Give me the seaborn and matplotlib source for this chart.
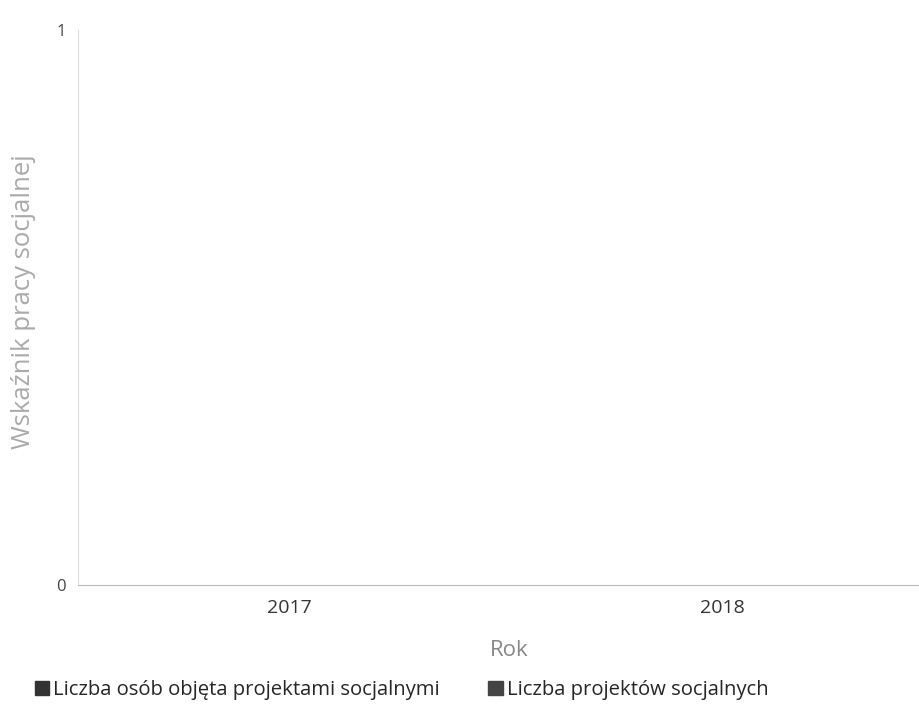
import matplotlib
matplotlib.use("Agg")
import pandas as pd
import matplotlib.pyplot as plt
import seaborn as sns

# data (both series are zero in the reference)
years = ["2017", "2018"]
series_names = ["Liczba osób objęta projektami socjalnymi", "Liczba projektów socjalnych"]
osoby = [0, 0]
projekty = [0, 0]
colors = ["#333333", "#444444"]

df = pd.DataFrame({
    "Rok": years * 2,
    "Seria": [series_names[0]] * len(years) + [series_names[1]] * len(years),
    "Wartosc": osoby + projekty,
})

sns.set_style("white")
plt.rcParams["font.family"] = ["Open Sans", "DejaVu Sans"]

fig = plt.figure(figsize=(9.19, 7.08), dpi=100)
ax = fig.add_axes([78 / 919, 1 - 585 / 708, 1 - 78 / 919, (585 - 30) / 708])

sns.barplot(data=df, x="Rok", y="Wartosc", hue="Seria", palette=colors,
            errorbar=None, ax=ax, legend=False)

ax.set_xlim(-0.49, 1.456)
ax.set_ylim(0, 1)
ax.set_yticks([0, 1])
ax.set_yticklabels(["0", "1"], color="#444444", fontsize=12)
ax.tick_params(axis="x", length=0, pad=10, labelsize=14, labelcolor="#333333")
ax.tick_params(axis="y", length=0, pad=9)

for s in ["top", "right"]:
    ax.spines[s].set_visible(False)
ax.spines["left"].set_color("#dddddd")
ax.spines["bottom"].set_color("#bbbbbb")

ax.set_xlabel("Rok", fontsize=16, color="#888888")
ax.xaxis.set_label_coords((509 - 78) / 841, (585 - 650) / 555)
ax.xaxis.label.set_verticalalignment("center")
ax.set_ylabel("Wskaźnik pracy socjalnej", fontsize=18.5, color="#aaaaaa")
ax.yaxis.set_label_coords((24 - 78) / 841, (585 - 302) / 555)
ax.yaxis.label.set_verticalalignment("center")

handles = [plt.Rectangle((0, 0), 1, 1, color=c) for c in colors]
fig.legend(handles, series_names, loc="center left", bbox_to_anchor=(0.018, 1 - 690 / 708),
           ncol=2, frameon=False, fontsize=14.6, handlelength=0.7, handleheight=0.7,
           handletextpad=0.2, columnspacing=2.4)

fig.savefig("out.png", dpi=100)
